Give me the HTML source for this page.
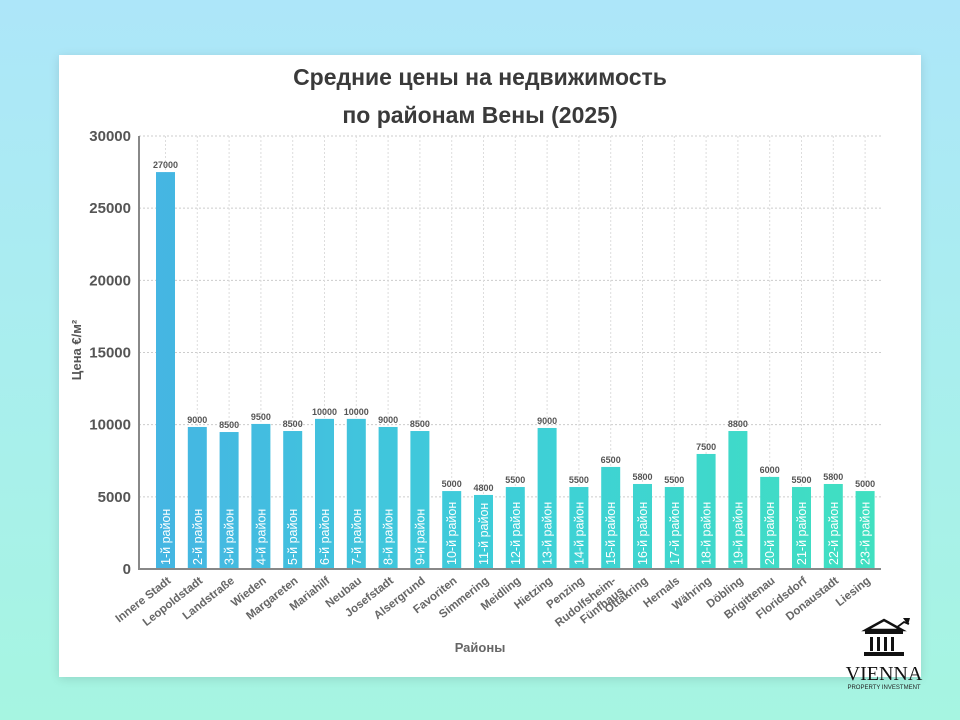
<!DOCTYPE html>
<html><head><meta charset="utf-8"><style>
body{margin:0;width:960px;height:720px;overflow:hidden;background:linear-gradient(180deg,#ade6f9 0%,#a9eeee 50%,#a6f5e1 100%);font-family:"Liberation Sans","DejaVu Sans",sans-serif}
#card{position:absolute;left:59px;top:55px;width:862px;height:622px;background:#fff;box-shadow:0 2px 10px rgba(0,0,0,.12)}
svg{position:absolute;left:0;top:0}
</style></head><body>
<div id="card"></div>
<svg id="chart" width="960" height="720">
<defs><linearGradient id="g" gradientUnits="userSpaceOnUse" x1="150" y1="0" x2="880" y2="0"><stop offset="0" stop-color="#45b5e3"/><stop offset="0.5" stop-color="#3ecfd8"/><stop offset="1" stop-color="#40e0c0"/></linearGradient></defs>
<text x="480" y="85" text-anchor="middle" font-size="23" font-weight="bold" fill="#3a3a3a">Средние цены на недвижимость</text>
<text x="480" y="123" text-anchor="middle" font-size="23" font-weight="bold" fill="#3a3a3a">по районам Вены (2025)</text>
<g id="grid"></g><g id="bars"></g><g id="axes"></g>
<text transform="translate(81,350) rotate(-90)" text-anchor="middle" font-size="13" font-weight="bold" fill="#555">Цена €/м²</text>
<text x="480" y="652" text-anchor="middle" font-size="13" font-weight="bold" fill="#666">Районы</text>
<g>
<path d="M866 630 L884 620 L902 630 Z" fill="none" stroke="#111" stroke-width="2.5"/>
<rect x="865" y="631" width="38" height="3" fill="#111"/>
<rect x="870" y="637" width="3" height="14" fill="#111"/><rect x="877" y="637" width="3" height="14" fill="#111"/><rect x="884" y="637" width="3" height="14" fill="#111"/><rect x="891" y="637" width="3" height="14" fill="#111"/>
<rect x="864" y="652" width="40" height="4" fill="#111"/>
<path d="M896 628 L904 622 L909 624" fill="none" stroke="#111" stroke-width="1.8"/>
<path d="M903 618 L910 618 L908 625 Z" fill="#111"/>
<text x="884" y="680" text-anchor="middle" font-family="Liberation Serif,serif" font-size="20" fill="#111">VIENNA</text>
<text x="884" y="689" text-anchor="middle" font-size="6" fill="#222">PROPERTY INVESTMENT</text>
</g>
</svg>
<script>
const categories=["Innere Stadt","Leopoldstadt","Landstraße","Wieden","Margareten","Mariahilf","Neubau","Josefstadt","Alsergrund","Favoriten","Simmering","Meidling","Hietzing","Penzing","Rudolfsheim-|Fünfhaus","Ottakring","Hernals","Währing","Döbling","Brigittenau","Floridsdorf","Donaustadt","Liesing"];
const barValues=[27500,9840,9490,10050,9560,10400,10400,9840,9560,5400,5130,5680,9770,5680,7070,5890,5680,7970,9560,6380,5680,5890,5400];
const valueLabels=["27000","9000","8500","9500","8500","10000","10000","9000","8500","5000","4800","5500","9000","5500","6500","5800","5500","7500","8800","6000","5500","5800","5000"];
const yTicks=[0,5000,10000,15000,20000,25000,30000];
const NS="http://www.w3.org/2000/svg";
const y0=569,y1=136,yMax=30000;
const y=v=>y0-(v/yMax)*(y0-y1);
const x=i=>165.5+i*31.8;
const bw=19;
function mk(t,a,p){const e=document.createElementNS(NS,t);for(const k in a)e.setAttribute(k,a[k]);p.appendChild(e);return e;}
const grid=document.getElementById('grid'),bars=document.getElementById('bars'),axes=document.getElementById('axes');
yTicks.forEach(v=>{
 const l=mk('line',{x1:139,x2:881,y1:y(v),y2:y(v),stroke:'#ccc','stroke-dasharray':'2,2'},grid);
 
 
 const t=mk('text',{x:131,y:y(v)+5,'text-anchor':'end','font-size':15,'font-weight':'bold',fill:'#555'},axes);
 t.textContent=v;
 
 
});
categories.forEach((c,i)=>{
 const cx=x(i);
 const gl=mk('line',{x1:cx,x2:cx,y1:y1,y2:y0,stroke:'#ddd','stroke-dasharray':'2,2'},grid);
 
 
 const r=mk('rect',{x:cx-bw/2,y:y(barValues[i]),width:bw,height:y0-y(barValues[i]),fill:'url(#g)'},bars);
 
 
 const vl=mk('text',{x:cx,y:y(barValues[i])-4,'text-anchor':'middle','font-size':9,'font-weight':'bold',fill:'#555'},bars);
 vl.textContent=valueLabels[i];
 
 
 const il=mk('text',{transform:`translate(${cx+4.5},565) rotate(-90)`,'font-size':12.5,fill:'#fff'},bars);
 il.textContent=(i+1)+'-й район';
 
 
 const parts=c.split('|');
 const xl=mk('text',{transform:`translate(${cx+6},582) rotate(-38)`,'text-anchor':'end','font-size':11.5,'font-weight':'bold',fill:'#666'},axes);
 parts.forEach((p,k)=>{const ts=mk('tspan',{x:0,dy:k?13:0},xl);ts.textContent=p;});
 
 
});
const ax=mk('line',{x1:139,x2:139,y1:y1,y2:y0+1,stroke:'#888','stroke-width':2},axes);


const bx=mk('line',{x1:138,x2:881,y1:y0,y2:y0,stroke:'#888','stroke-width':2},axes);


</script>
</body></html>
